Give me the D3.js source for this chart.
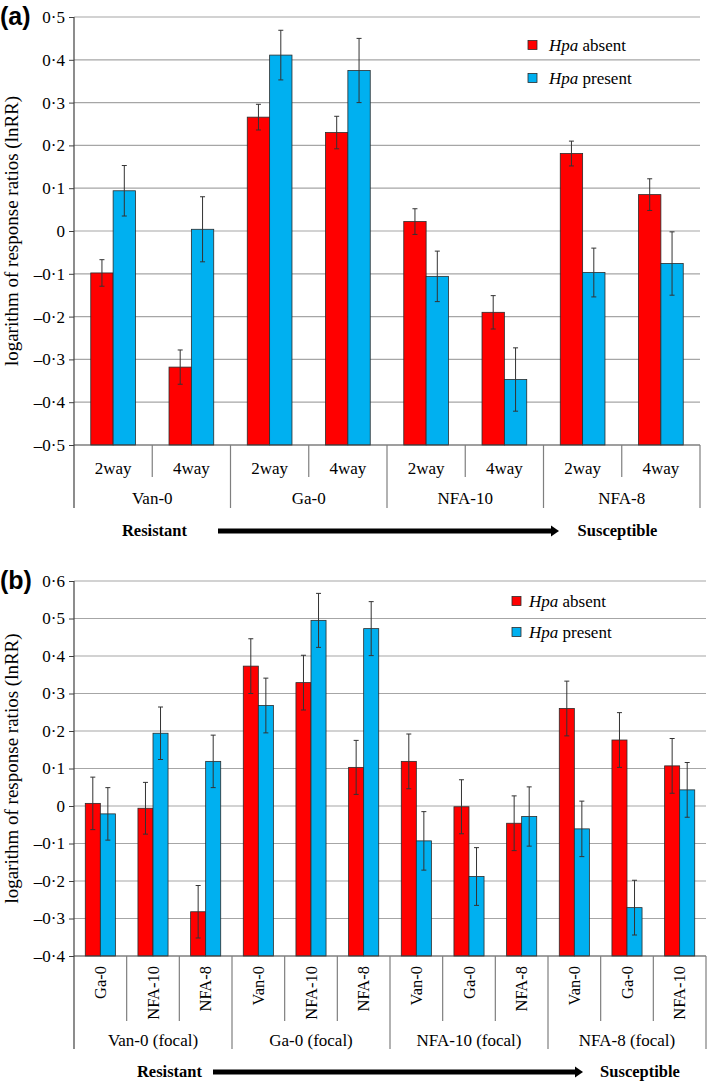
<!DOCTYPE html>
<html><head><meta charset="utf-8">
<script src="https://cdn.jsdelivr.net/npm/d3@7"></script>
<style>
html,body{margin:0;padding:0;background:#fff;}
svg{display:block;}
text{font-family:"Liberation Serif","Times New Roman",serif;fill:#000;}
</style></head>
<body>
<svg id="chart" width="709" height="1081"></svg>
<script>
// ---------- Data: panel (a) ----------
const aGroups = ["Van-0", "Ga-0", "NFA-10", "NFA-8"];
const aSubs = ["2way", "4way"];
const aAbsent     = [-0.098, -0.318, 0.266, 0.230, 0.022, -0.190, 0.181, 0.085];
const aAbsentErr  = [0.031, 0.040, 0.030, 0.038, 0.030, 0.039, 0.029, 0.037];
const aPresent    = [0.094, 0.004, 0.411, 0.375, -0.106, -0.347, -0.097, -0.076];
const aPresentErr = [0.059, 0.076, 0.058, 0.075, 0.059, 0.074, 0.057, 0.074];
const aTicks = [-0.5, -0.4, -0.3, -0.2, -0.1, 0, 0.1, 0.2, 0.3, 0.4, 0.5];

// ---------- Data: panel (b) ----------
const bGroups = ["Van-0 (focal)", "Ga-0 (focal)", "NFA-10 (focal)", "NFA-8 (focal)"];
const bSubs = [["Ga-0", "NFA-10", "NFA-8"], ["Van-0", "NFA-10", "NFA-8"], ["Van-0", "Ga-0", "NFA-8"], ["Van-0", "Ga-0", "NFA-10"]];
const bAbsent     = [0.007, -0.006, -0.282, 0.373, 0.329, 0.103, 0.119, -0.002, -0.046, 0.260, 0.176, 0.107];
const bAbsentErr  = [0.070, 0.069, 0.070, 0.073, 0.073, 0.072, 0.073, 0.072, 0.073, 0.073, 0.073, 0.073];
const bPresent    = [-0.021, 0.194, 0.119, 0.268, 0.495, 0.473, -0.093, -0.188, -0.028, -0.061, -0.271, 0.043];
const bPresentErr = [0.070, 0.070, 0.070, 0.073, 0.072, 0.072, 0.078, 0.077, 0.079, 0.074, 0.073, 0.073];
const bTicks = [-0.4, -0.3, -0.2, -0.1, 0, 0.1, 0.2, 0.3, 0.4, 0.5, 0.6];

const seriesNames = ["Hpa absent", "Hpa present"];
const seriesKeys = ["absent", "present"];
const colors = {absent: "#FF0000", present: "#00B0F0"};

const svg = d3.select("#chart");
const fmt = v => {
  if (Math.abs(v) < 1e-9) return "0";
  const s = Math.abs(v).toFixed(1).replace(".", "\u00B7");
  return (v < 0 ? "\u2013" : "") + s;
};

function drawPanel(cfg) {
  const g = svg.append("g");
  const {left, right, top, bottom} = cfg;
  const n = cfg.absent.length;
  const x = d3.scaleBand().domain(d3.range(n)).range([left, right]).padding(0);
  const xs = d3.scaleBand().domain(seriesKeys).range([0, x.bandwidth()]).paddingInner(0).paddingOuter(0.75);
  const y = d3.scaleLinear().domain(cfg.domain).range([bottom, top]);

  // gridlines
  g.append("g").selectAll("line").data(cfg.ticks.slice(1)).join("line")
    .attr("x1", left).attr("x2", right)
    .attr("y1", d => y(d)).attr("y2", d => y(d))
    .attr("stroke", "#a6a6a6").attr("stroke-width", 1.2);

  // y axis
  const yAxis = d3.axisLeft(y).tickValues(cfg.ticks).tickFormat(fmt).tickSize(5).tickPadding(4);
  const ya = g.append("g").attr("transform", `translate(${left},0)`).call(yAxis);
  ya.select(".domain").remove();
  ya.selectAll(".tick line").attr("stroke", "#404040");
  ya.selectAll(".tick text").style("font-family", '"Liberation Serif",serif').style("font-size", "17px").attr("fill", "#000");

  // bars
  const rows = d3.range(n).map(i => ({i, absent: cfg.absent[i], absentErr: cfg.absentErr[i], present: cfg.present[i], presentErr: cfg.presentErr[i]}));
  seriesKeys.forEach(k => {
    g.append("g").selectAll("rect").data(rows).join("rect")
      .attr("x", d => x(d.i) + xs(k))
      .attr("width", xs.bandwidth())
      .attr("y", d => Math.min(y(d[k]), y(cfg.base)))
      .attr("height", d => Math.abs(y(d[k]) - y(cfg.base)))
      .attr("fill", colors[k]).attr("stroke", "#2b2b2b").attr("stroke-width", 0.8);
  });
  // error bars
  seriesKeys.forEach(k => {
    const eg = g.append("g").attr("stroke", "#333").attr("stroke-width", 1);
    rows.forEach(d => {
      const cx = x(d.i) + xs(k) + xs.bandwidth() / 2;
      const y1 = y(d[k] + d[k + "Err"]), y2 = y(d[k] - d[k + "Err"]);
      eg.append("line").attr("x1", cx).attr("x2", cx).attr("y1", y1).attr("y2", y2);
      eg.append("line").attr("x1", cx - 2.5).attr("x2", cx + 2.5).attr("y1", y1).attr("y2", y1);
      eg.append("line").attr("x1", cx - 2.5).attr("x2", cx + 2.5).attr("y1", y2).attr("y2", y2);
    });
  });

  // axes lines
  g.append("line").attr("x1", left).attr("x2", left).attr("y1", top).attr("y2", cfg.groupBottom)
    .attr("stroke", "#404040").attr("stroke-width", 1.2);
  g.append("line").attr("x1", left).attr("x2", right).attr("y1", bottom).attr("y2", bottom)
    .attr("stroke", "#404040").attr("stroke-width", 1.2);

  // category dividers
  const per = n / cfg.groups.length;
  for (let i = 1; i <= n; i++) {
    const xx = i === n ? right : x(i);
    const isGroup = i % per === 0;
    g.append("line").attr("x1", xx).attr("x2", xx).attr("y1", bottom)
      .attr("y2", isGroup ? cfg.groupBottom : cfg.subBottom)
      .attr("stroke", "#7f7f7f").attr("stroke-width", 1.2);
  }
  // sub labels
  rows.forEach(d => {
    const cx = x(d.i) + x.bandwidth() / 2;
    const label = cfg.subLabel(d.i);
    if (cfg.rotate) {
      g.append("text").attr("transform", `translate(${cx + 5.5},${cfg.subY}) rotate(-90)`)
        .attr("text-anchor", "end").style("font-size", "16.5px").text(label);
    } else {
      g.append("text").attr("x", cx).attr("y", cfg.subY).attr("text-anchor", "middle")
        .style("font-size", "17px").text(label);
    }
  });
  // group labels
  cfg.groups.forEach((gl, j) => {
    const cx = x(j * per) + x.bandwidth() * per / 2;
    g.append("text").attr("x", cx).attr("y", cfg.groupY).attr("text-anchor", "middle")
      .style("font-size", "17px").text(gl);
  });

  // y label
  g.append("text").attr("transform", `translate(${cfg.ylabX},${(top + bottom) / 2}) rotate(-90)`)
    .attr("text-anchor", "middle").style("font-size", "19px").text("logarithm of response ratios (lnRR)");

  // panel letter
  g.append("text").attr("x", 0).attr("y", top + 8)
    .style("font-family", '"Liberation Sans",Arial,sans-serif').style("font-weight", "bold").style("font-size", "25px")
    .text(cfg.letter);

  // legend
  seriesKeys.forEach((k, i) => {
    const ly = cfg.legY + i * cfg.legGap;
    g.append("rect").attr("x", cfg.legX).attr("y", ly - 4.5).attr("width", 9).attr("height", 9)
      .attr("fill", colors[k]).attr("stroke", "#2b2b2b").attr("stroke-width", 0.8);
    const t = g.append("text").attr("x", cfg.legTextX).attr("y", ly + 5.5).style("font-size", "17px");
    t.append("tspan").style("font-style", "italic").text(seriesNames[i].split(" ")[0]);
    t.append("tspan").text(" " + seriesNames[i].split(" ")[1]);
  });

  // resistant -> susceptible arrow
  g.append("text").attr("x", cfg.resX).attr("y", cfg.arrowY + 5).attr("text-anchor", "middle")
    .style("font-weight", "bold").style("font-size", "16.5px").text("Resistant");
  g.append("text").attr("x", cfg.susX).attr("y", cfg.arrowY + 5).attr("text-anchor", "middle")
    .style("font-weight", "bold").style("font-size", "16.5px").text("Susceptible");
  g.append("line").attr("x1", cfg.arrowX1).attr("x2", cfg.arrowX2 - 6).attr("y1", cfg.arrowY).attr("y2", cfg.arrowY)
    .attr("stroke", "#000").attr("stroke-width", 5);
  g.append("path").attr("d", `M${cfg.arrowX2 - 8},${cfg.arrowY - 5.5} L${cfg.arrowX2},${cfg.arrowY} L${cfg.arrowX2 - 8},${cfg.arrowY + 5.5} Z`)
    .attr("fill", "#000");
}

drawPanel({
  letter: "(a)", left: 74, right: 700, top: 17, bottom: 445,
  domain: [-0.5, 0.5], ticks: aTicks, base: -0.5,
  absent: aAbsent, absentErr: aAbsentErr, present: aPresent, presentErr: aPresentErr,
  groups: aGroups, subLabel: i => aSubs[i % 2], rotate: false,
  subBottom: 477, groupBottom: 508, subY: 474, groupY: 504,
  ylabX: 18, legX: 528, legTextX: 549, legY: 45, legGap: 33,
  resX: 154.5, susX: 617.5, arrowY: 531, arrowX1: 218, arrowX2: 559
});

drawPanel({
  letter: "(b)", left: 74, right: 706, top: 581, bottom: 956,
  domain: [-0.4, 0.6], ticks: bTicks, base: -0.4,
  absent: bAbsent, absentErr: bAbsentErr, present: bPresent, presentErr: bPresentErr,
  groups: bGroups, subLabel: i => bSubs[Math.floor(i / 3)][i % 3], rotate: true,
  subBottom: 1021, groupBottom: 1049, subY: 966, groupY: 1046,
  ylabX: 18, legX: 512, legTextX: 529, legY: 601, legGap: 31,
  resX: 169.5, susX: 640, arrowY: 1072, arrowX1: 213, arrowX2: 583
});
</script>
</body></html>
